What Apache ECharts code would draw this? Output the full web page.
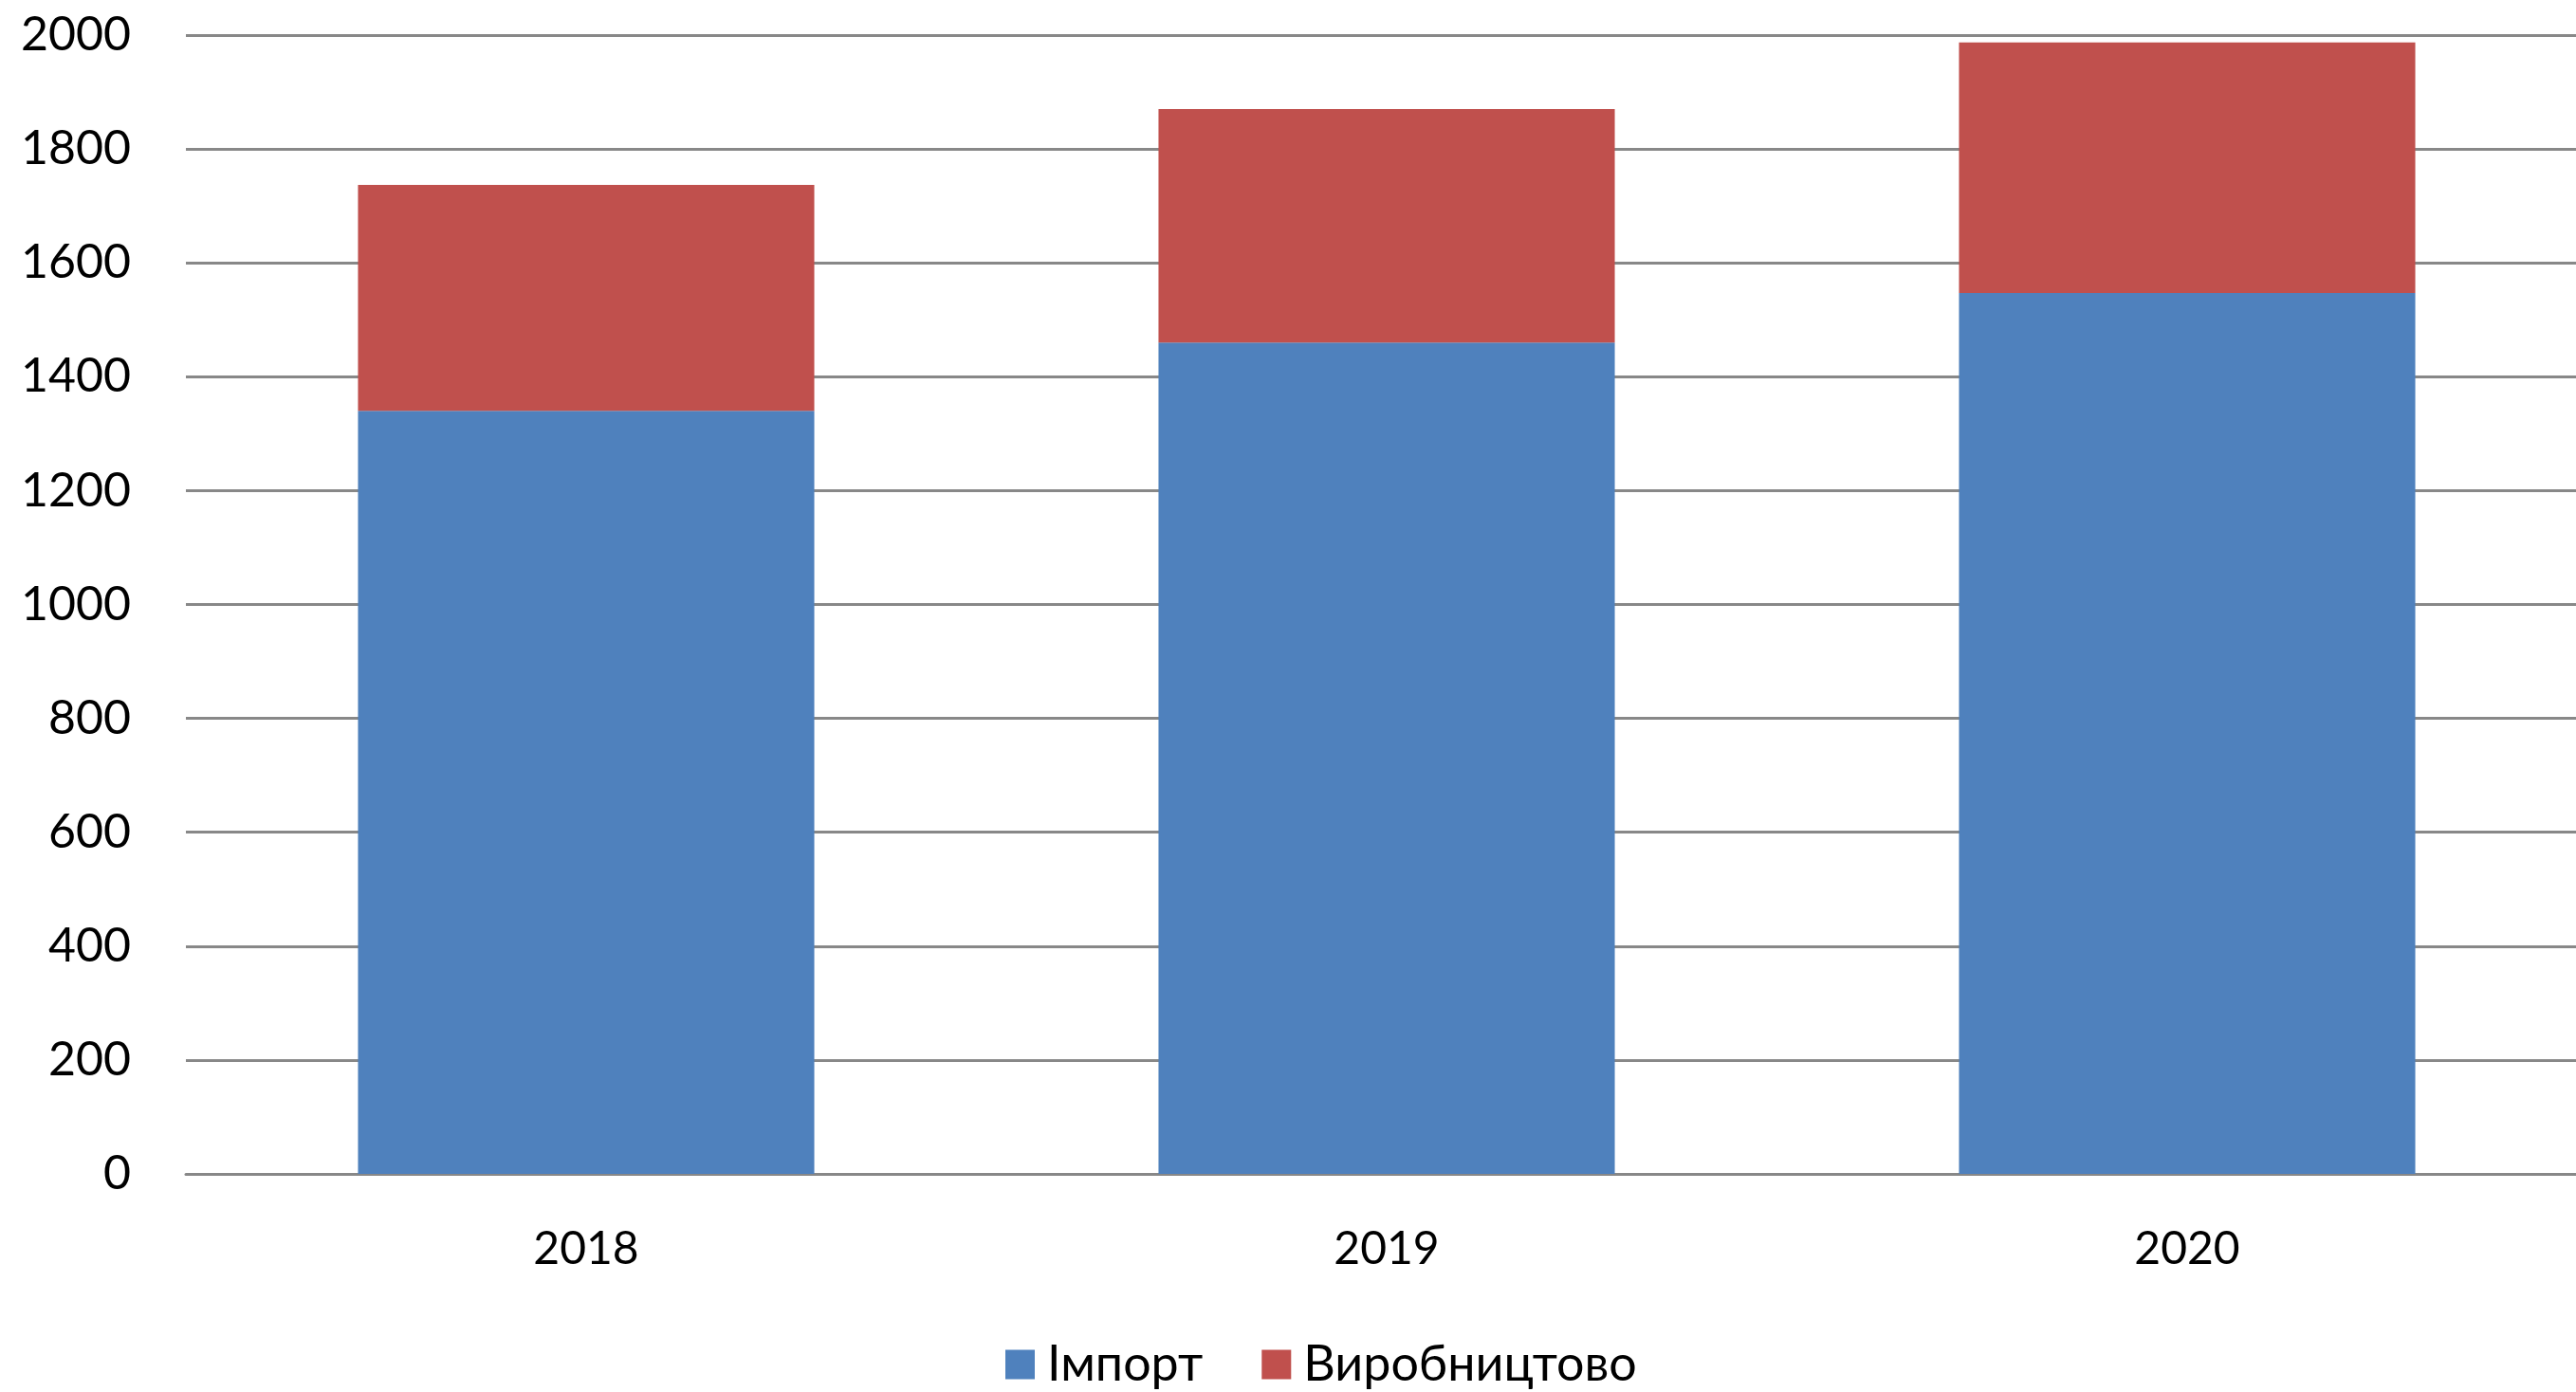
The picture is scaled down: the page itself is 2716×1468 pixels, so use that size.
<!DOCTYPE html>
<html>
<head>
<meta charset="utf-8">
<script src="https://cdn.jsdelivr.net/npm/echarts@6/dist/echarts.min.js"></script>
<style>
  html, body { margin: 0; padding: 0; background: #ffffff; overflow: hidden; }
  #chart { width: 2740px; height: 1468px; }
</style>
</head>
<body>
<div id="chart"></div>
<script>
var years = ['2018', '2019', '2020']
var importVals = [1340, 1460, 1547]
var prodVals = [397, 410, 440]
var seriesNames = ['Імпорт', 'Виробництово']

var myChart = echarts.init(document.getElementById('chart'))
var font = 'Lato, "Open Sans", sans-serif'
var option = {
  backgroundColor: '#ffffff',
  animation: false,
  textStyle: { fontFamily: font },
  grid: {
    left: 196,
    top: 37,
    width: 2532,
    height: 1201,
    containLabel: false
  },
  legend: {
    left: 1055,
    top: 1408,
    itemWidth: 31,
    itemHeight: 31,
    itemGap: 62,
    icon: 'rect',
    textStyle: { fontFamily: font, fontSize: 52, color: '#000000', padding: [0, 0, 0, 8] },
    data: seriesNames
  },
  xAxis: {
    type: 'category',
    data: years,
    axisTick: { show: false },
    axisLine: { lineStyle: { color: '#888888', width: 3 } },
    axisLabel: { fontFamily: font, fontSize: 48, color: '#000000', margin: 56 }
  },
  yAxis: {
    type: 'value',
    min: 0,
    max: 2000,
    interval: 200,
    axisLine: { show: false },
    axisTick: { show: false },
    axisLabel: {
      fontFamily: font,
      fontSize: 50,
      color: '#000000',
      margin: 58,
      formatter: function(v) {
        return String(v)
      }
    },
    splitLine: { lineStyle: { color: '#888888', width: 3 } }
  },
  series: [
    {
      name: seriesNames[0],
      type: 'bar',
      stack: 'total',
      barWidth: '57%',
      itemStyle: { color: '#4F81BD' },
      data: importVals
    },
    {
      name: seriesNames[1],
      type: 'bar',
      stack: 'total',
      itemStyle: { color: '#C0504D' },
      data: prodVals
    }
  ]
}
myChart.setOption(option, true)
window.addEventListener('resize', () => {
  myChart.resize()
})
</script>
</body>
</html>
